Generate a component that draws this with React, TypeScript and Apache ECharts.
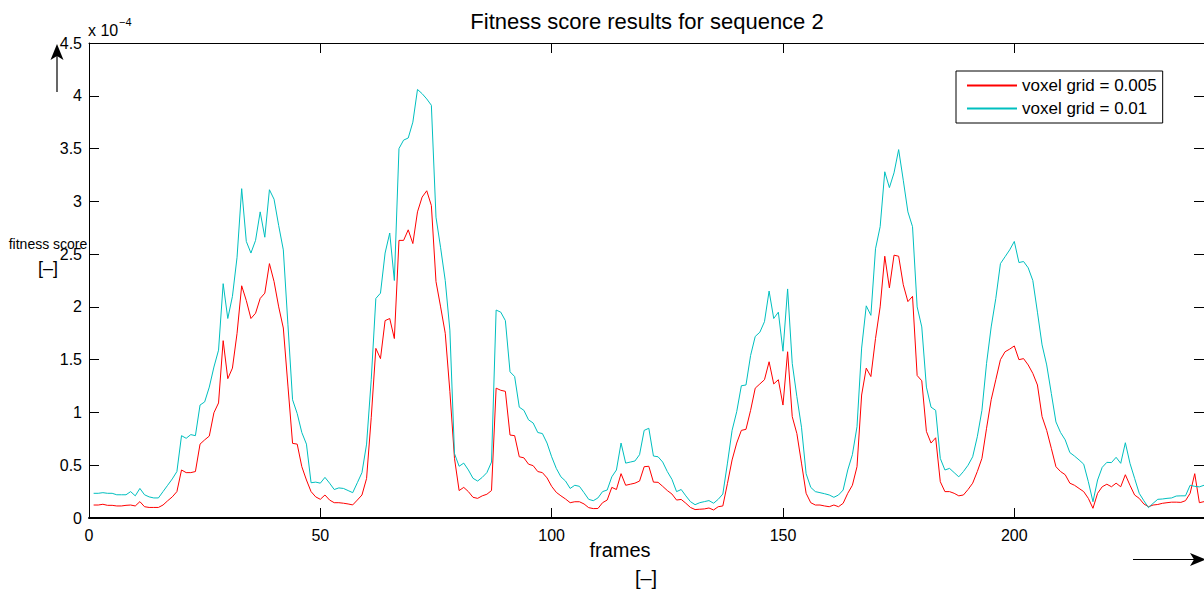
import React, { useEffect, useRef } from "react";
import * as echarts from "echarts";

// Fitness score values, in units of 1e-4, for frames 1..241
const voxel005: number[] = [
  0.123, 0.123, 0.13, 0.12, 0.12, 0.114, 0.114, 0.12, 0.123, 0.114,
  0.155, 0.107, 0.1, 0.1, 0.1, 0.123, 0.163, 0.2, 0.25, 0.455,
  0.43, 0.43, 0.44, 0.7, 0.74, 0.776, 0.997, 1.09, 1.68, 1.32,
  1.42, 1.75, 2.2, 2.06, 1.89, 1.94, 2.08, 2.13, 2.41, 2.24,
  2.0, 1.8, 1.25, 0.707, 0.7, 0.486, 0.36, 0.25, 0.2, 0.177,
  0.218, 0.17, 0.145, 0.145, 0.14, 0.133, 0.124, 0.17, 0.218, 0.375,
  0.95, 1.607, 1.51, 1.87, 1.89, 1.7, 2.63, 2.63, 2.73, 2.6,
  2.9, 3.04, 3.1, 2.96, 2.24, 2.0, 1.75, 1.2, 0.565, 0.26,
  0.29, 0.25, 0.196, 0.186, 0.21, 0.225, 0.26, 1.23, 1.21, 1.2,
  0.786, 0.78, 0.58, 0.57, 0.51, 0.496, 0.44, 0.43, 0.38, 0.3,
  0.243, 0.21, 0.18, 0.145, 0.154, 0.154, 0.133, 0.098, 0.089, 0.09,
  0.145, 0.17, 0.29, 0.27, 0.42, 0.31, 0.32, 0.33, 0.35, 0.486,
  0.49, 0.34, 0.338, 0.3, 0.26, 0.227, 0.17, 0.176, 0.14, 0.1,
  0.08, 0.083, 0.086, 0.095, 0.076, 0.107, 0.114, 0.328, 0.55, 0.71,
  0.83, 0.84, 1.02, 1.23, 1.27, 1.31, 1.48, 1.27, 1.31, 1.07,
  1.575, 0.96, 0.8, 0.52, 0.234, 0.145, 0.123, 0.123, 0.114, 0.107,
  0.123, 0.107, 0.139, 0.234, 0.31, 0.486, 1.165, 1.42, 1.34, 1.7,
  2.0, 2.48, 2.18, 2.49, 2.48, 2.21, 2.05, 2.1, 1.35, 1.3,
  0.82, 0.71, 0.76, 0.344, 0.25, 0.25, 0.234, 0.21, 0.218, 0.27,
  0.33, 0.44, 0.565, 0.85, 1.12, 1.31, 1.5, 1.575, 1.6, 1.63,
  1.5, 1.51, 1.45, 1.37, 1.26, 0.96, 0.83, 0.66, 0.486, 0.44,
  0.41, 0.33, 0.31, 0.28, 0.25, 0.186, 0.092, 0.234, 0.296, 0.32,
  0.296, 0.33, 0.296, 0.41, 0.31, 0.218, 0.186, 0.133, 0.107, 0.123,
  0.128, 0.139, 0.145, 0.15, 0.15, 0.148, 0.164, 0.234, 0.42, 0.145,
  0.155,
];

const voxel01: number[] = [
  0.234, 0.234, 0.24, 0.234, 0.234, 0.22, 0.22, 0.22, 0.25, 0.21,
  0.28, 0.22, 0.2, 0.19, 0.19, 0.25, 0.31, 0.37, 0.44, 0.78,
  0.755, 0.79, 0.78, 1.07, 1.1, 1.24, 1.43, 1.59, 2.22, 1.89,
  2.1, 2.47, 3.12, 2.62, 2.51, 2.63, 2.9, 2.66, 3.11, 3.02,
  2.77, 2.54, 1.83, 1.12, 0.99, 0.81, 0.7, 0.334, 0.34, 0.33,
  0.385, 0.33, 0.27, 0.285, 0.28, 0.26, 0.24, 0.334, 0.43, 0.7,
  1.31, 2.08, 2.13, 2.51, 2.7, 2.25, 3.5, 3.58, 3.6, 3.75,
  4.06, 4.02, 3.97, 3.91, 2.85, 2.56, 2.25, 1.78, 0.61, 0.49,
  0.52, 0.455, 0.376, 0.35, 0.385, 0.43, 0.53, 1.97, 1.95, 1.87,
  1.385, 1.34, 1.05, 1.02, 0.93, 0.9, 0.81, 0.8, 0.71, 0.58,
  0.47, 0.39, 0.35, 0.28, 0.31, 0.3, 0.24, 0.177, 0.164, 0.19,
  0.25, 0.265, 0.39, 0.455, 0.71, 0.52, 0.53, 0.54, 0.6, 0.83,
  0.85, 0.587, 0.58, 0.53, 0.44, 0.366, 0.25, 0.27, 0.21, 0.155,
  0.126, 0.145, 0.155, 0.165, 0.14, 0.177, 0.227, 0.52, 0.83, 1.007,
  1.253, 1.26, 1.54, 1.72, 1.76, 1.86, 2.15, 1.89, 1.95, 1.58,
  2.17, 1.465, 1.15, 0.86, 0.42, 0.29, 0.25, 0.24, 0.23, 0.218,
  0.196, 0.218, 0.265, 0.455, 0.6, 0.865, 1.61, 2.01, 1.92, 2.55,
  2.76, 3.28, 3.13, 3.27, 3.49, 3.2, 2.9, 2.76, 2.0, 1.81,
  1.24, 1.05, 1.02, 0.565, 0.455, 0.47, 0.43, 0.39, 0.44, 0.5,
  0.58, 0.77, 1.02, 1.465, 1.81, 2.08, 2.41, 2.475, 2.54, 2.62,
  2.42, 2.43, 2.37, 2.25, 1.95, 1.64, 1.45, 1.18, 0.91, 0.81,
  0.74, 0.62, 0.587, 0.55, 0.51, 0.344, 0.154, 0.36, 0.48, 0.527,
  0.525, 0.575, 0.518, 0.713, 0.518, 0.376, 0.234, 0.164, 0.098, 0.139,
  0.177, 0.18, 0.186, 0.19, 0.208, 0.21, 0.21, 0.31, 0.3, 0.295,
  0.31,
];

const seriesNames = ["voxel grid = 0.005", "voxel grid = 0.01"];
const xTickValues = [0, 50, 100, 150, 200];
const xMax = 241;
const yMax = 4.5;
const yInterval = 0.5;

const FONT = "'Liberation Sans', Arial, Helvetica, sans-serif";

const toPairs = (vals: number[]) => vals.map((v, i) => [i + 1, v]);

export default function App() {
  const ref = useRef<HTMLDivElement>(null);

  useEffect(() => {
    if (!ref.current) return;
    const chart = echarts.init(ref.current, undefined, { renderer: "svg" });

    const xLabelFmt = (v: number) => (xTickValues.indexOf(v) >= 0 ? String(v) : "");

    const axisLineBlack = (w: number) => ({ show: true, onZero: false, lineStyle: { color: "#000", width: w } });

    const arrowHead = (tip: [number, number], dir: "up" | "right") => {
      const L = 16, W = 6.5, N = 4;
      const [x, y] = tip;
      if (dir === "up") {
        return [[x, y], [x + W, y + L], [x, y + L - N], [x - W, y + L]];
      }
      return [[x, y], [x - L, y - W], [x - L + N, y], [x - L, y + W]];
    };

    chart.setOption({
      animation: false,
      backgroundColor: "#ffffff",
      textStyle: { fontFamily: FONT },
      grid: { left: 89, right: -1, top: 43, bottom: 75, containLabel: false },
      legend: {
        orient: "vertical",
        left: 956,
        top: 71,
        padding: [6, 6, 6, 10],
        itemGap: 6,
        itemWidth: 50,
        itemHeight: 16,
        borderColor: "#000",
        borderWidth: 1,
        backgroundColor: "#fff",
        itemStyle: { opacity: 0 },
        textStyle: { fontSize: 17, color: "#000", fontFamily: FONT },
        data: seriesNames,
      },
      xAxis: [
        {
          type: "value",
          position: "bottom",
          min: 0,
          max: xMax,
          interval: 50,
          axisLine: axisLineBlack(2),
          axisTick: { show: true, inside: true, length: 10, lineStyle: { color: "#000", width: 1 } },
          axisLabel: { color: "#000", fontSize: 16, margin: 9, showMaxLabel: false, formatter: xLabelFmt, fontFamily: FONT },
          splitLine: { show: false },
        },
        {
          type: "value",
          position: "top",
          min: 0,
          max: xMax,
          interval: 50,
          axisLine: axisLineBlack(1),
          axisTick: { show: true, inside: true, length: 10, lineStyle: { color: "#000", width: 1 } },
          axisLabel: { show: false },
          splitLine: { show: false },
        },
      ],
      yAxis: [
        {
          type: "value",
          position: "left",
          min: 0,
          max: yMax,
          interval: yInterval,
          axisLine: axisLineBlack(1),
          axisTick: { show: true, inside: true, length: 10, lineStyle: { color: "#000", width: 1 } },
          axisLabel: { color: "#000", fontSize: 16, margin: 7, fontFamily: FONT },
          splitLine: { show: false },
        },
        {
          type: "value",
          position: "right",
          min: 0,
          max: yMax,
          interval: yInterval,
          axisLine: axisLineBlack(1),
          axisTick: { show: true, inside: true, length: 10, lineStyle: { color: "#000", width: 1 } },
          axisLabel: { show: false },
          splitLine: { show: false },
        },
      ],
      series: [
        {
          name: seriesNames[0],
          type: "line",
          data: toPairs(voxel005),
          symbol: "none",
          showSymbol: false,
          lineStyle: { color: "#ff0000", width: 1 },
          itemStyle: { color: "#ff0000" },
        },
        {
          name: seriesNames[1],
          type: "line",
          data: toPairs(voxel01),
          symbol: "none",
          showSymbol: false,
          lineStyle: { color: "#00bfbf", width: 1 },
          itemStyle: { color: "#00bfbf" },
        },
      ],
      graphic: [
        {
          type: "text",
          x: 647,
          y: 21,
          style: { text: "Fitness score results for sequence 2", fontSize: 22, fill: "#000", fontFamily: FONT, align: "center", verticalAlign: "middle" },
        },
        {
          type: "text",
          x: 88,
          y: 30,
          style: { text: "x 10", fontSize: 16, fill: "#000", fontFamily: FONT, align: "left", verticalAlign: "middle" },
        },
        {
          type: "text",
          x: 119,
          y: 22,
          style: { text: "\u22124", fontSize: 11, fill: "#000", fontFamily: FONT, align: "left", verticalAlign: "middle" },
        },
        {
          type: "text",
          x: 48,
          y: 244,
          style: { text: "fitness score", fontSize: 14, fill: "#000", fontFamily: FONT, align: "center", verticalAlign: "middle" },
        },
        {
          type: "text",
          x: 48,
          y: 268,
          style: { text: "[\u2013]", fontSize: 18, fill: "#000", fontFamily: FONT, align: "center", verticalAlign: "middle" },
        },
        {
          type: "text",
          x: 620,
          y: 550,
          style: { text: "frames", fontSize: 20, fill: "#000", fontFamily: FONT, align: "center", verticalAlign: "middle" },
        },
        {
          type: "text",
          x: 646,
          y: 578,
          style: { text: "[\u2013]", fontSize: 20, fill: "#000", fontFamily: FONT, align: "center", verticalAlign: "middle" },
        },
        {
          type: "line",
          shape: { x1: 57, y1: 92, x2: 57, y2: 55 },
          style: { stroke: "#000", lineWidth: 1.2 },
        },
        {
          type: "polygon",
          shape: { points: arrowHead([57, 44], "up") },
          style: { fill: "#000" },
        },
        {
          type: "line",
          shape: { x1: 1133, y1: 559.5, x2: 1195, y2: 559.5 },
          style: { stroke: "#000", lineWidth: 1.2 },
        },
        {
          type: "polygon",
          shape: { points: arrowHead([1206, 559.5], "right") },
          style: { fill: "#000" },
        },
      ],
    });

    return () => chart.dispose();
  }, []);

  return (
    <div
      ref={ref}
      style={{ position: "absolute", left: 0, top: 0, width: 1204, height: 593, background: "#fff" }}
    />
  );
}
